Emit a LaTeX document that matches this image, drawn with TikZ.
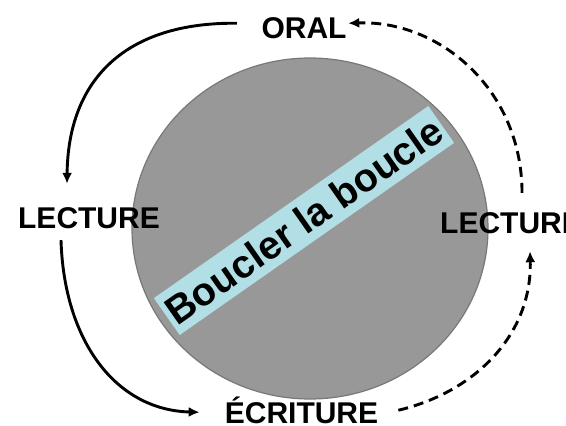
\documentclass[tikz,border=0pt]{standalone}
\usepackage{fontspec}
\setmainfont{Liberation Sans}
\usetikzlibrary{shapes.geometric,arrows.meta,calc}
\definecolor{discgray}{RGB}{152,152,152}
\definecolor{discedge}{RGB}{120,120,120}
\definecolor{bandblue}{RGB}{178,223,229}
\begin{document}
\begin{tikzpicture}[x=1pt,y=-1pt,
  lab/.style={font=\fontsize{30}{36}\selectfont\bfseries, inner sep=0pt, text height=21.5pt, text depth=0pt},
  solidarrow/.style={line width=2.9pt, -{Latex[length=11pt,width=10pt]}},
  dasharrow/.style={solidarrow, dash pattern=on 10pt off 6pt}]
\useasboundingbox (0,0) rectangle (566,426);
\clip (0,0) rectangle (566,426);
\node[ellipse, fill=discgray, draw=discedge, line width=1.2pt, minimum width=356pt, minimum height=341pt, inner sep=0pt] (disc) at (310,228.5) {};
\node[fill=bandblue, rotate=35, minimum width=335pt, minimum height=45pt, inner sep=0pt, font=\fontsize{39.5}{42}\selectfont\bfseries] (band) at (304,220.5) {Boucler la boucle};
\node[lab, anchor=base] (oral) at (304,38) {ORAL};
\node[lab, anchor=base] (lecl) at (89,228) {LECTURE};
\node[lab, anchor=base west] (lecr) at (440,233) {LECTURE};
\node[lab, anchor=base] (ecr) at (301.5,423) {ÉCRITURE};
\draw[solidarrow] ($(oral.west)+(-24.5,-4)$) .. controls (125,22) and (68,80) .. ($(lecl.north)+(-22,-22.5)$);
\draw[solidarrow] ($(lecl.south)+(-28,12)$) .. controls (64,340) and (115,410) .. ($(ecr.west)+(-25,0)$);
\draw[dasharrow] ($(ecr.east)+(20,-2)$) .. controls (475,392) and (532,335) .. ($(lecr.south)+(19,18)$);
\draw[dasharrow] ($(lecr.north)+(11,-18.5)$) .. controls (522,90) and (440,20) .. ($(oral.east)+(1.5,-4)$);
\end{tikzpicture}
\end{document}
